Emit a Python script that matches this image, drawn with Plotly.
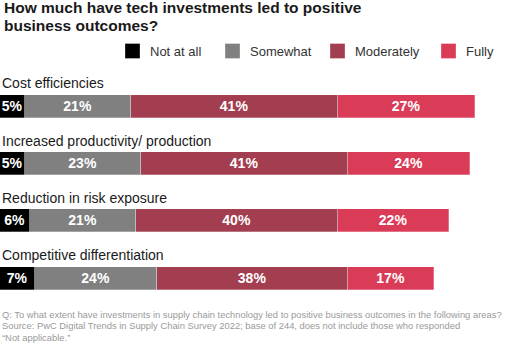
import plotly.graph_objects as go

categories = ["Cost efficiencies", "Increased productivity/ production",
              "Reduction in risk exposure", "Competitive differentiation"]
series_names = ["Not at all", "Somewhat", "Moderately", "Fully"]
not_at_all = [5, 5, 6, 7]
somewhat = [21, 23, 21, 24]
moderately = [41, 41, 40, 38]
fully = [27, 24, 22, 17]
colors = ["#000000", "#808080", "#A33D50", "#DA3B57"]

title_lines = ["How much have tech investments led to positive", "business outcomes?"]
foot_lines = [
    "Q: To what extent have investments in supply chain technology led to positive business outcomes in the following areas?",
    "Source: PwC Digital Trends in Supply Chain Survey 2022; base of 244, does not include those who responded",
    "\u201cNot applicable.\u201d",
]

W, H = 512, 348
FONT = "Liberation Sans, Arial, Helvetica, sans-serif"

y_idx = list(range(len(categories)))
fig = go.Figure()
for name, vals, col in zip(series_names, [not_at_all, somewhat, moderately, fully], colors):
    fig.add_trace(go.Bar(
        y=y_idx, x=vals, orientation="h", name=name,
        marker=dict(color=col, line=dict(color="rgba(255,255,255,0.35)", width=0.8)),
        width=0.40,
        text=[f"<b>{v}%</b>" for v in vals],
        textposition="inside", insidetextanchor="middle", textangle=0,
        textfont=dict(color="white", size=14, family=FONT),
        hoverinfo="skip", showlegend=False,
    ))

# category labels above bars
for i, c in enumerate(categories):
    fig.add_annotation(x=0, y=i - 0.40, xref="x", yref="y", text=c, showarrow=False,
                       xanchor="left", yanchor="middle", xshift=0,
                       font=dict(size=14, color="#1a1a1a", family=FONT))

# title
for k, t in enumerate(title_lines):
    fig.add_annotation(x=2 / W, y=1 - (8 + 17.5 * k) / H, xref="paper", yref="paper",
                       text=f"<b>{t}</b>", showarrow=False, xanchor="left", yanchor="middle",
                       font=dict(size=15.5, color="#1a1a1a", family=FONT))

# custom legend
leg_x = [125, 225, 330, 441]
for lx, name, col in zip(leg_x, series_names, colors):
    fig.add_shape(type="rect", xref="paper", yref="paper",
                  x0=lx / W, x1=(lx + 15) / W, y0=1 - 58.5 / H, y1=1 - 43.5 / H,
                  fillcolor=col, line=dict(color="rgba(255,255,255,0.4)", width=0.8))
    fig.add_annotation(x=(lx + 23) / W, y=1 - 51.5 / H, xref="paper", yref="paper",
                       text=name, showarrow=False, xanchor="left", yanchor="middle",
                       font=dict(size=13, color="#333333", family=FONT))

# footnote
for k, t in enumerate(foot_lines):
    fig.add_annotation(x=0, y=1 - (314 + 11.8 * k) / H, xref="paper", yref="paper",
                       text=t, showarrow=False, xanchor="left", yanchor="middle",
                       font=dict(size=9.4, color="#9a9a9a", family=FONT))

spacing = 57.3
c0 = 106.3
fig.update_layout(
    width=W, height=H, margin=dict(l=0, r=0, t=0, b=0),
    paper_bgcolor="white", plot_bgcolor="white",
    barmode="stack", bargap=0,
    xaxis=dict(range=[0, W / 5.05], visible=False, fixedrange=True),
    yaxis=dict(range=[(H - c0) / spacing, -c0 / spacing], visible=False, fixedrange=True),
    uniformtext=dict(minsize=14, mode="show"),
    font=dict(family=FONT),
)

fig.write_html("out.html")
